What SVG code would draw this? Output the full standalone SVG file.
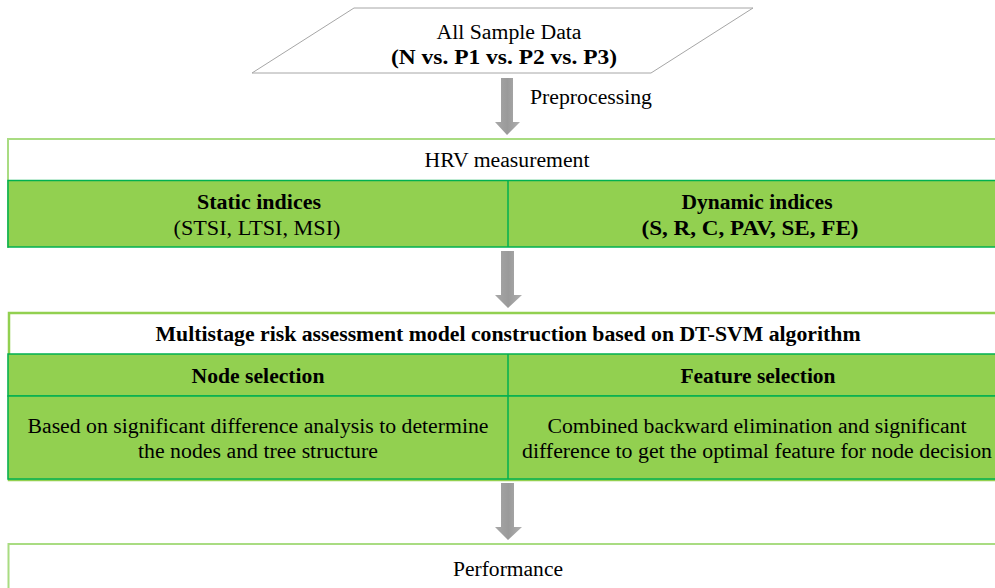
<svg xmlns="http://www.w3.org/2000/svg" width="995" height="588" viewBox="0 0 995 588">
<style>
text{font-family:"Liberation Serif","Times New Roman",serif;font-size:20px;fill:#000;text-anchor:middle}
.b{font-weight:bold}
.green{fill:#92d050;stroke:#00b050;stroke-width:1.5}
.outer{fill:none;stroke:#92d050;stroke-width:2.5}
.lite{fill:none;stroke:#a9dc82;stroke-width:2}
.div{stroke:#00b050;stroke-width:1.5}
.arrow{fill:url(#ag)}
</style>
<defs>
<linearGradient id="ag" x1="0" y1="0" x2="1" y2="0">
<stop offset="0" stop-color="#a8a8a8"/>
<stop offset="0.5" stop-color="#9a9a9a"/>
<stop offset="1" stop-color="#b0b0b0"/>
</linearGradient>
</defs>
<rect width="995" height="588" fill="#fff"/>

<g id="input">
<polygon points="354,8 753,8 651,73 252,73" fill="#fff" stroke="#a6a6a6" stroke-width="1"/>
<text x="509" y="39" textLength="145" lengthAdjust="spacingAndGlyphs">All Sample Data</text>
<text x="504" y="64" class="b" textLength="226" lengthAdjust="spacingAndGlyphs">(N vs. P1 vs. P2 vs. P3)</text>
</g>

<g id="connectors">
<polygon class="arrow" points="501,78 513,78 513,122 520,122 507,135 495,122 501,122"/>
<text x="530" y="104" style="text-anchor:start" textLength="122" lengthAdjust="spacingAndGlyphs">Preprocessing</text>
<polygon class="arrow" points="501,251 514,251 514,295 522,295 508,308 495,295 501,295"/>
<polygon class="arrow" points="501,483 514,483 514,527 522,527 508,540 495,527 501,527"/>
</g>

<g id="hrv">
<rect x="8" y="139" width="1000" height="42" fill="#fff"/>
<path class="lite" d="M8,248 V139 H995"/>
<rect class="green" x="8" y="180.5" width="1000" height="66.5"/>
<line class="div" x1="508" y1="181" x2="508" y2="247"/>
<text x="507" y="167" textLength="165" lengthAdjust="spacingAndGlyphs">HRV measurement</text>
<text x="259" y="209" class="b" textLength="124" lengthAdjust="spacingAndGlyphs">Static indices</text>
<text x="257" y="235" textLength="167" lengthAdjust="spacingAndGlyphs">(STSI, LTSI, MSI)</text>
<text x="757" y="209" class="b" textLength="151" lengthAdjust="spacingAndGlyphs">Dynamic indices</text>
<text x="750" y="235" class="b" textLength="217" lengthAdjust="spacingAndGlyphs">(S, R, C, PAV, SE, FE)</text>
</g>

<g id="model">
<rect class="outer" x="9" y="313" width="1000" height="167"/>
<rect class="green" x="8" y="354" width="1000" height="42"/>
<rect class="green" x="8" y="396" width="1000" height="83"/>
<line class="div" x1="508" y1="354" x2="508" y2="479"/>
<text x="508" y="341" class="b" textLength="705" lengthAdjust="spacingAndGlyphs">Multistage risk assessment model construction based on DT-SVM algorithm</text>
<text x="258" y="383" class="b" textLength="133" lengthAdjust="spacingAndGlyphs">Node selection</text>
<text x="758" y="383" class="b" textLength="155" lengthAdjust="spacingAndGlyphs">Feature selection</text>
<text x="258" y="433" textLength="461" lengthAdjust="spacingAndGlyphs">Based on significant difference analysis to determine</text>
<text x="258" y="458" textLength="240" lengthAdjust="spacingAndGlyphs">the nodes and tree structure</text>
<text x="757" y="433" textLength="419" lengthAdjust="spacingAndGlyphs">Combined backward elimination and significant</text>
<text x="757" y="458" textLength="470" lengthAdjust="spacingAndGlyphs">difference to get the optimal feature for node decision</text>
</g>

<g id="performance">
<path class="lite" d="M8.5,590 V544 H995"/>
<text x="508" y="576" textLength="110" lengthAdjust="spacingAndGlyphs">Performance</text>
</g>
</svg>
